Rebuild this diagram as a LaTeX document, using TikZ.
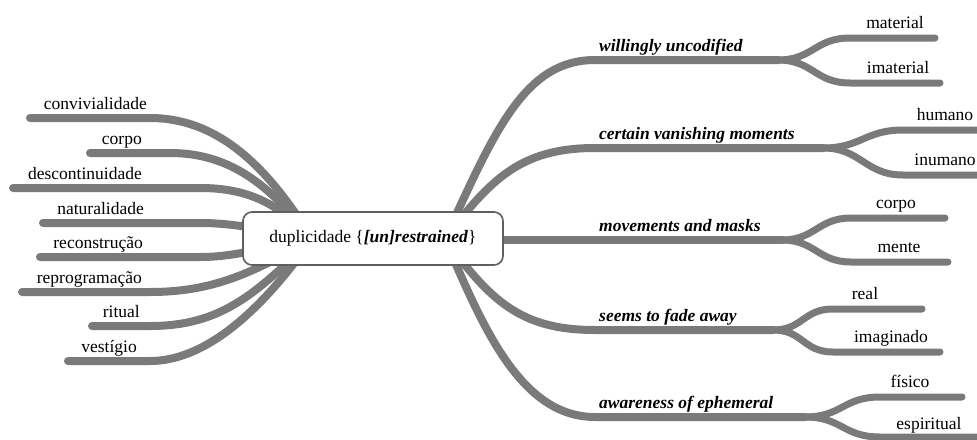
\documentclass[tikz,border=0pt]{standalone}
\usepackage{fontspec}
\setmainfont{Liberation Serif}
\definecolor{branchgray}{RGB}{122,122,122}
\definecolor{framegray}{RGB}{95,95,95}

\begin{document}
\begin{tikzpicture}[x=1pt,y=-1pt,
  branch/.style={draw=branchgray,line width=8pt,line cap=round},
  twig/.style={draw=branchgray,line width=7pt,line cap=round},
  lbl/.style={font=\fontsize{17.5}{20}\selectfont,inner sep=0pt,text=black},
  leftlbl/.style={lbl,anchor=base east},
  sublbl/.style={lbl,anchor=base},
  topic/.style={lbl,font=\fontsize{17.5}{20}\selectfont\bfseries\itshape,anchor=base west},
  centerbox/.style={draw=framegray,line width=1.6pt,fill=white,rounded corners=9pt,
    minimum width=260pt,minimum height=53pt,inner sep=0pt,
    font=\fontsize{17.5}{20}\selectfont}
]
\useasboundingbox (0,0) rectangle (977,439);
\fill[white] (0,0) rectangle (977,439);

% hubs hidden under the central topic
\coordinate (hubL) at (312,239);
\coordinate (hubR) at (445,239);

% ---------- left branches ----------
\node[leftlbl] (conv)  at (147,109) {convivialidade};
\node[leftlbl] (corpoL) at (142,144) {corpo};
\node[leftlbl] (desc)  at (142,179) {descontinuidade};
\node[leftlbl] (natu)  at (144,214) {naturalidade};
\node[leftlbl] (reco)  at (143,248) {reconstrução};
\node[leftlbl] (repr)  at (142,283) {reprogramação};
\node[leftlbl] (ritu)  at (140,317) {ritual};
\node[leftlbl] (vest)  at (137,352) {vestígio};

\coordinate (convE) at (30,118);
\coordinate (corpE) at (90,153);
\coordinate (descE) at (13,188);
\coordinate (natuE) at (43,223);
\coordinate (recoE) at (40,257);
\coordinate (reprE) at (22,292);
\coordinate (rituE) at (92,326);
\coordinate (vestE) at (68,361);

% ---------- right branches ----------
\node[topic] (will) at (599,51)  {willingly uncodified};
\node[topic] (cert) at (599,139) {certain vanishing moments};
\node[topic] (move) at (599,231) {movements and masks};
\node[topic] (seem) at (599,321) {seems to fade away};
\node[topic] (awar) at (599,408) {awareness of ephemeral};

\node[sublbl] (mate)  at (895,28)  {material};
\node[sublbl] (imat)  at (898,73)  {imaterial};
\node[sublbl] (huma)  at (945,120) {humano};
\node[sublbl] (inum)  at (945,165) {inumano};
\node[sublbl] (corpR) at (896,208) {corpo};
\node[sublbl] (ment)  at (899,252) {mente};
\node[sublbl] (real)  at (865,299) {real};
\node[sublbl] (imag)  at (891,342) {imaginado};
\node[sublbl] (fisi)  at (910,387) {físico};
\node[sublbl] (espi)  at (929,429) {espiritual};

% split points and twig ends
\coordinate (willS) at (778,60);
\coordinate (certS) at (823,148);
\coordinate (moveS) at (782,240);
\coordinate (seemS) at (773,330);
\coordinate (awarS) at (805,417);

\coordinate (mateA) at (850,38);  \coordinate (mateE) at (935,38);
\coordinate (imatA) at (850,83);  \coordinate (imatE) at (940,83);
\coordinate (humaA) at (903,130); \coordinate (humaE) at (995,130);
\coordinate (inumA) at (903,175); \coordinate (inumE) at (995,175);
\coordinate (corpA) at (851,218); \coordinate (corpRE) at (945,218);
\coordinate (mentA) at (851,262); \coordinate (mentE) at (948,262);
\coordinate (realA) at (833,309); \coordinate (realE) at (922,309);
\coordinate (imagA) at (833,352); \coordinate (imagE) at (940,352);
\coordinate (fisiA) at (880,397); \coordinate (fisiE) at (962,397);
\coordinate (espiA) at (880,437); \coordinate (espiE) at (995,437);

% left side
\draw[branch] (hubL) .. controls (270,170) and (220,118) .. (150,118) -- (convE);
\draw[branch] (hubL) .. controls (270,185) and (230,153) .. (170,153) -- (corpE);
\draw[branch] (hubL) .. controls (280,205) and (250,188) .. (200,188) -- (descE);
\draw[branch] (hubL) .. controls (270,232) and (240,223) .. (200,223) -- (natuE);
\draw[branch] (hubL) .. controls (270,245) and (240,257) .. (200,257) -- (recoE);
\draw[branch] (hubL) .. controls (250,275) and (210,292) .. (150,292) -- (reprE);
\draw[branch] (hubL) .. controls (255,295) and (220,326) .. (150,326) -- (rituE);
\draw[branch] (hubL) .. controls (255,320) and (200,361) .. (150,361) -- (vestE);

% right side
\draw[branch] (hubR) .. controls (495,130) and (525,60) .. (595,60) -- (willS);
\draw[branch] (hubR) .. controls (490,180) and (520,148) .. (595,148) -- (certS);
\draw[branch] (hubR) -- (445,240) -- (moveS);
\draw[branch] (hubR) .. controls (490,300) and (520,330) .. (595,330) -- (seemS);
\draw[branch] (hubR) .. controls (482,325) and (520,417) .. (595,417) -- (awarS);

% twigs
\draw[twig] (willS) .. controls +(35,0) and +(-35,0) .. (mateA) -- (mateE);
\draw[twig] (willS) .. controls +(35,0) and +(-35,0) .. (imatA) -- (imatE);
\draw[twig] (certS) .. controls +(38,0) and +(-38,0) .. (humaA) -- (humaE);
\draw[twig] (certS) .. controls +(38,0) and +(-38,0) .. (inumA) -- (inumE);
\draw[twig] (moveS) .. controls +(33,0) and +(-33,0) .. (corpA) -- (corpRE);
\draw[twig] (moveS) .. controls +(33,0) and +(-33,0) .. (mentA) -- (mentE);
\draw[twig] (seemS) .. controls +(30,0) and +(-30,0) .. (realA) -- (realE);
\draw[twig] (seemS) .. controls +(30,0) and +(-30,0) .. (imagA) -- (imagE);
\draw[twig] (awarS) .. controls +(37,0) and +(-37,0) .. (fisiA) -- (fisiE);
\draw[twig] (awarS) .. controls +(37,0) and +(-37,0) .. (espiA) -- (espiE);

% central topic, drawn over the branch roots
\node[centerbox] (root) at (373,238.5) {duplicidade \{\textbf{\textit{[un]restrained}}\}};
\end{tikzpicture}
\end{document}
